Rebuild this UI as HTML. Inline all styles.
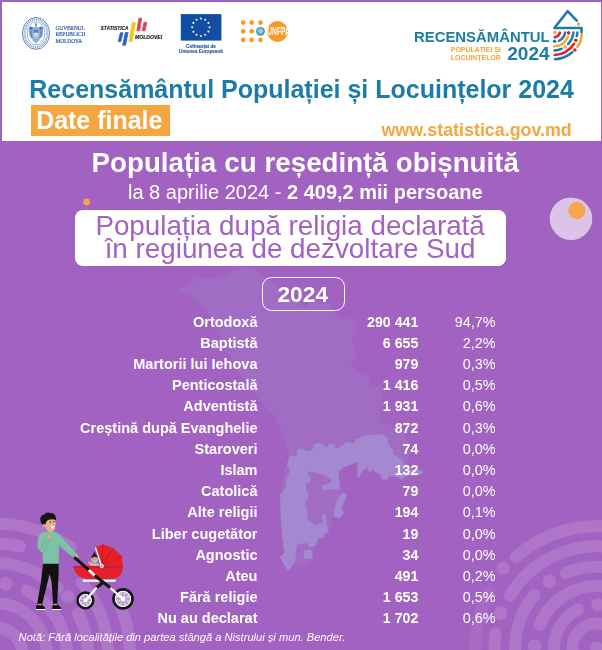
<!DOCTYPE html>
<html lang="ro">
<head>
<meta charset="utf-8">
<title>Recensământul Populației și Locuințelor 2024</title>
<style>
html,body{margin:0;padding:0;}
body{width:602px;height:650px;overflow:hidden;background:#A262C1;position:relative;
  font-family:"Liberation Sans",sans-serif;color:#fff;}
#wrap{position:absolute;left:0;top:0;width:602px;height:650px;overflow:hidden;will-change:transform;}
.abs{position:absolute;white-space:nowrap;}
#hdr{position:absolute;left:1.5px;top:1.6px;width:599.3px;height:139.8px;background:#fff;}
#title{left:29.3px;top:74.5px;font-size:25px;line-height:28px;font-weight:bold;color:#1B7DA7;}
#tag{left:31px;top:105px;width:139px;height:30.5px;background:#F4A640;}
#tagt{left:36.2px;top:106px;font-size:24.95px;line-height:28px;font-weight:bold;color:#fff;}
#www{left:381.4px;top:119.7px;font-size:17.85px;line-height:20px;font-weight:bold;color:#F4A640;}
#h1{left:91.6px;top:147.3px;font-size:27.7px;line-height:31px;font-weight:bold;word-spacing:0.35px;}
#h2{left:128px;top:181px;font-size:20px;line-height:23px;}
#box{left:75px;top:209.5px;width:431px;height:56.4px;background:#fff;border-radius:8px;}
.bl{font-size:27.8px;line-height:30px;color:#A262C1;left:74.6px;width:431px;text-align:center;}
#yr{left:262.4px;top:277.4px;width:80.2px;height:31.4px;border:1.2px solid rgba(255,255,255,0.95);border-radius:9.5px;}
#yrt{left:261.8px;width:82px;top:280.6px;text-align:center;font-size:22.8px;line-height:26px;font-weight:bold;}
.row{position:absolute;left:0;width:602px;height:21.15px;font-size:14.4px;line-height:21.15px;}
.row span{position:absolute;top:0;white-space:nowrap;text-align:right;}
.row .a{right:344.5px;font-weight:bold;font-size:14.52px;}
.row .b{right:183.7px;font-weight:bold;font-size:14.2px;}
.row .c{right:106.5px;}
#note{left:18.6px;top:629.9px;font-size:11.13px;line-height:14px;font-style:italic;}
</style>
</head>
<body>
<div id="wrap">
<!-- decorative background -->
<svg class="abs" style="left:0;top:0" width="602" height="650" viewBox="0 0 602 650">
  <g id="deco">
  <!-- Moldova map silhouette -->
  <path d="M179.0 290.0 L185.9 286.0 L191.4 283.0 L195.6 275.9 L205.2 279.0 L219.0 278.0 L231.4 271.9 L241.1 268.9 L246.6 266.9 L257.0 270.9 L264.6 275.9 L274.2 284.0 L280.4 292.0 L292.2 300.0 L299.1 302.0 L305.3 308.1 L310.1 300.0 L320.5 304.1 L329.4 304.1 L339.8 320.1 L351.5 318.1 L357.0 328.2 L352.2 338.2 L357.0 356.3 L351.5 362.3 L356.3 372.3 L368.1 376.3 L371.5 387.4 L382.5 383.4 L381.9 404.5 L379.1 421.5 L392.9 426.5 L403.9 430.6 L408.1 442.6 L409.5 454.7 L405.3 463.7 L412.2 469.7 L423.5 470.9 L421.2 474.4 L404.9 476.2 L402.6 479.7 L397.9 477.3 L388.6 476.2 L388 479.7 L382.8 479.7 L380.5 475 L374.7 471.5 L372.4 469.2 L369.7 473 L367 467.9 L363 470.5 L359 477.2 L357.2 477 L357.7 462.5 L352.4 462 L347 465.2 L341.8 469 L338.6 471.9 L340.4 486.5 L340 493.5 L346 495.8 L341.4 507.4 L343.7 513 L340 518 L334 516.7 L328.6 531.9 L324 534 L324 537.7 L318 538.8 L315.8 545.8 L313 558.6 L308.8 565.6 L295 564.4 L288 571.4 L279.8 557.4 L284.4 552.8 L282 536.5 L280.5 513 L281 492 L283 480 L285 470 L287.3 463.9 L289.4 454.7 L282.5 434.6 L274.2 416.5 L260.4 401.4 L246.6 383.4 L236.3 368.3 L225.9 350.2 L219.0 331.2 L210.7 318.1 L203.1 306.1 L192.8 298.0Z" fill="#A06CC4"/>
  <path d="M290.0 455.2 L296.6 455.9 L297.3 449.9 L301.3 447.9 L306.6 451.3 L312.6 449.9 L313.2 444.6 L318.5 442.6 L325.2 446.0 L327.8 447.3 L328.5 443.3 L334.5 444.0 L335.2 447.9 L338.5 447.9 L346.4 442.0 L354.4 443.3 L355.7 439.3 L360.0 437.3 L363.0 435.4 L381.6 434.3 L387.4 437.8 L388.6 444.8 L393.3 450 L393.3 454.1 L400.2 458.7 L403.7 463.4 L404.9 469.2 L415 469.5 L423.5 470.9 L421.2 474.4 L404.9 476.2 L402.6 479.7 L397.9 477.3 L388.6 476.2 L388 479.7 L382.8 479.7 L380.5 475 L374.7 471.5 L372.4 469.2 L369.7 473.0 L367.0 467.9 L363.0 470.5 L359.0 477.2 L357.2 477.0 L357.7 462.5 L360.0 461.2 L354.4 463.2 L342.5 467.9 L338.5 472.5 L339.8 489.8 L330.5 489.1 L322.5 489.8 L321.2 485.8 L331.2 482.5 L331.2 479.8 L323.9 475.2 L314.6 472.5 L308.6 471.2 L307.9 473.9 L311.2 479.2 L309.9 482.5 L306.6 483.8 L305.9 488.5 L308.6 493.8 L307.9 499.1 L305.2 501.8 L306.6 510.0 L307.7 512.0 L307.7 520.0 L314.6 524.9 L322.8 522.6 L321.6 514.4 L325.0 514.4 L328.6 531.9 L324.0 534.0 L324.0 537.7 L318.0 538.8 L315.8 545.8 L308.8 547.0 L307.7 543.0 L297.0 544.7 L295.0 562.0 L288.0 571.4 L279.8 557.4 L284.4 552.8 L282.0 536.5 L280.5 513.0 L280.0 493.8 L282.7 492.5 L285.3 487.1 L286.0 480.5 L288.0 475.8 L290.0 469.9 L286.6 465.2Z" fill="#A488D0"/>
  <path d="M342.5 492.5 L347.1 495.1 L341.8 507.8 L343.7 513 L340 518 L334 516.7 L334 511 L336.5 500.4Z" fill="#A488D0"/>
  <path d="M304 550.5 L311 549 L313 558.6 L304 559Z" fill="#A488D0"/>
  <!-- fingerprint bottom-right -->
  <g fill="none" stroke="#fff" stroke-opacity="0.13" stroke-width="12" stroke-linecap="round" id="fpR">
<path d="M515.7 557.3 A121.8 121.8 0 0 1 618.2 528.1 M510.0 595.5 A101.6 101.6 0 0 1 614.6 547.9 M495.5 633.7 A102.5 102.5 0 0 0 496.1 665.8 M565.8 573.0 A81.2 81.2 0 0 1 611.1 568.0 M534.5 595.0 A82 82 0 0 0 516.2 662.2 M539.6 625.1 A61.8 61.8 0 0 1 607.7 587.1 M577.9 609.5 A43 43 0 0 0 554.7 655.5 M605.4 625.0 A24.5 24.5 0 0 0 572.9 652.3"/>
<path stroke-opacity="0.06" d="M489.7 591.0 A121.5 121.5 0 0 0 477.3 669.1"/>
<circle cx="503.3" cy="568.3" r="6.8" fill="#fff" fill-opacity="0.13" stroke="none"/>
<circle cx="500.6" cy="613.1" r="6.8" fill="#fff" fill-opacity="0.13" stroke="none"/>
<circle cx="549.5" cy="581.2" r="6.8" fill="#fff" fill-opacity="0.13" stroke="none"/>
<circle cx="534.5" cy="646.4" r="6.8" fill="#fff" fill-opacity="0.13" stroke="none"/>
<circle cx="597.8" cy="605.0" r="6.8" fill="#fff" fill-opacity="0.13" stroke="none"/>
<circle cx="597.0" cy="648.4" r="6.8" fill="#fff" fill-opacity="0.13" stroke="none"/>
</g>
  <!-- fingerprint bottom-left -->
  <g fill="none" stroke="#fff" stroke-opacity="0.13" stroke-width="12" stroke-linecap="round" id="fpL">
<path d="M-27.9 525.5 A132 132 0 0 1 70.7 547.4 M118.3 600.1 A135 135 0 0 1 129.5 666.8 M-24.4 545.2 A111.5 111.5 0 0 1 20.1 546.4 M81.6 582.4 A113 113 0 0 1 107.6 664.8 M-21.0 564.4 A92 92 0 0 1 57.7 587.7 M78.1 613.2 A93 93 0 0 1 87.6 663.1 M27.0 590.5 A72 72 0 0 1 66.7 661.3 M-14.0 603.8 A52 52 0 0 1 46.8 659.5 M-9.8 627.9 A27.5 27.5 0 0 1 22.4 657.4"/>
<circle cx="5.8" cy="583.8" r="6.8" fill="#fff" fill-opacity="0.13" stroke="none"/>
<circle cx="67.8" cy="596.7" r="6.8" fill="#fff" fill-opacity="0.13" stroke="none"/>
<circle cx="-5.0" cy="655.0" r="6.8" fill="#fff" fill-opacity="0.13" stroke="none"/>
</g>
  <!-- circles -->
  <circle cx="571" cy="218.7" r="21.3" fill="#DBC4E8"/>
  <circle cx="576.8" cy="210.5" r="8.6" fill="#F6A548"/>
  <circle cx="86.6" cy="202" r="3.4" fill="#F6A548"/>

  <!-- man with pram -->
  <g id="man">
    <!-- pants -->
    <path d="M43.2 562.5 L58.6 562.5 L58.6 574 L57.2 605 L53.2 605 L51.6 582 L49.6 574 L42 605 L37 605 L41 582Z" fill="#111"/>
    <!-- shoes -->
    <path d="M36.4 605 L41.8 604.6 L45 607.6 L45 609.6 L36 609.6Z" fill="#111"/>
    <path d="M52.6 605 L57.6 604.6 L61 607.6 L61 609.6 L52.2 609.6Z" fill="#111"/>
    <rect x="36" y="609" width="9.2" height="1" fill="#fff"/>
    <rect x="52.2" y="609" width="9" height="1" fill="#fff"/>
    <rect x="37.6" y="603.8" width="4" height="1.4" fill="#E2A580"/>
    <rect x="53.4" y="603.8" width="3.6" height="1.4" fill="#E2A580"/>
    <!-- neck -->
    <rect x="48" y="528" width="4.8" height="6" fill="#E2A580"/>
    <!-- right arm -->
    <path d="M53.5 533.2 L58.2 533.6 L77.2 554.2 L75.4 557.6 L70.6 555.4 L55.6 541.5Z" fill="#7CC3A6"/>
    <!-- torso -->
    <path d="M39.6 534 C42 532.5 46 531.8 48 531.8 L53 531.8 C55.5 532 57.6 533 58.2 536 L59 548 L58.7 563.8 L43 563.8 L42.6 553 C39.5 551 37.4 548.5 37.4 545 C37.4 541 38.4 537 39.6 534Z" fill="#7CC3A6"/>
    <!-- left forearm line -->
    <path d="M40.5 547.5 L47.2 538.2" stroke="#5FA98B" stroke-width="0.8" fill="none"/>
    <path d="M43.2 552.6 L49.6 539.4" stroke="#5FA98B" stroke-width="0.6" fill="none"/>
    <!-- hands -->
    <circle cx="49" cy="537" r="2" fill="#E2A580"/>
    <circle cx="76.6" cy="556.4" r="1.9" fill="#E2A580"/>
    <g transform="translate(-0.9 0.2)">
    <!-- head -->
    <path d="M45.6 519.5 L55.4 518 C56.6 521 56.9 525 55.8 528.6 C54.8 531 52.6 532 50.6 531.4 C48 530.6 46.2 528 45.8 525Z" fill="#E8B08C"/>
    <circle cx="44.9" cy="525" r="1.5" fill="#E8B08C"/>
    <path d="M51.6 526.4 L55.4 525.6 C55.2 527.4 53.6 528.6 52.2 527.8Z" fill="#fff"/>
    <rect x="50.4" y="521.4" width="1.6" height="0.8" fill="#222"/>
    <rect x="54" y="521" width="1.4" height="0.8" fill="#222"/>
    <!-- hair -->
    <path d="M41.4 520.8 C40.6 517.5 42.6 514.6 45.2 514.4 C46.2 512.4 49.4 511.8 51.2 513 C53.6 512.4 56.4 514.2 56.6 517 C57.4 518 57 519.8 56 520 C54.6 518.6 52 519 49.6 519.6 C47.4 520.2 46.8 522.4 46.4 524.4 C45.4 523.6 44.6 523.6 44 524.6 C42.6 524 41.6 522.4 41.4 520.8Z" fill="#151515"/>
    </g>
  </g>
  <g id="pram">
    <!-- wheels -->
    <circle cx="85.4" cy="600.4" r="6.6" fill="#D2BDE2"/>
    <circle cx="123" cy="598.9" r="8.2" fill="#D2BDE2"/>
    <path d="M85.4 594.4 V606.4 M79.4 600.4 H91.4 M81.2 596.2 L89.6 604.6 M89.6 596.2 L81.2 604.6" stroke="#6F5C88" stroke-width="0.55"/>
    <path d="M123 591.4 V606.4 M115.5 598.9 H130.5 M117.7 593.6 L128.3 604.2 M128.3 593.6 L117.7 604.2" stroke="#6F5C88" stroke-width="0.55"/>
    <circle cx="85.4" cy="600.4" r="7.8" fill="none" stroke="#161616" stroke-width="2.6"/>
    <circle cx="85.4" cy="600.4" r="6" fill="none" stroke="#fff" stroke-width="0.9"/>
    <circle cx="123" cy="598.9" r="9.5" fill="none" stroke="#161616" stroke-width="2.7"/>
    <circle cx="123" cy="598.9" r="7.6" fill="none" stroke="#fff" stroke-width="1"/>
    <!-- legs -->
    <path d="M102.5 583 L96.8 587.5" stroke="#161616" stroke-width="3.2" stroke-linecap="round"/>
    <path d="M96.8 587.5 L85.4 600.4" stroke="#fff" stroke-width="2.2"/>
    <path d="M109.3 587 L123 598.9" stroke="#fff" stroke-width="2.2"/>
    <circle cx="85.4" cy="600.4" r="2" fill="#fff"/>
    <circle cx="123" cy="598.9" r="2.3" fill="#fff"/>
    <!-- hood -->
    <path d="M101.9 566 L95.1 547.1 L103 544.3 L113.3 548.3 L121.8 556.2 L123 566Z" fill="#E8202A"/>
    <path d="M101.9 566 L103 544.3 M101.9 566 L113.3 548.3 M101.9 566 L121.8 556.2" stroke="#B8141D" stroke-width="0.7" fill="none"/>
    <path d="M95.5 547.4 L101.2 565" stroke="#fff" stroke-width="1.3"/>
    <!-- baby -->
    <path d="M88 561.4 C89.4 561.2 91 562.4 92.4 563 L98.6 563.4 L99.6 566 L91 566 C89.6 564.6 88.4 563.2 88 561.4Z" fill="#E8B08C"/>
    <circle cx="94.5" cy="559.3" r="3.3" fill="#E8B08C"/>
    <path d="M91.2 558.2 C91.4 555.6 93.4 554.6 94.2 551.2 C95.2 554 97.4 555 97.8 557.6 C96 556.6 93.4 556.8 91.2 558.2Z" fill="#1B1E3C"/>
    <circle cx="93.6" cy="559" r="0.45" fill="#222"/><circle cx="96" cy="558.8" r="0.45" fill="#222"/>
    <circle cx="95.3" cy="561.3" r="1.5" fill="#8FD0F0"/>
    <!-- basket -->
    <path d="M73.4 565.9 L123 565.9 C123 574 118.6 578.9 111 578.9 L88 578.9 C79.4 578.9 74.6 574 73.4 565.9Z" fill="#E8202A"/>
    <rect x="73.4" y="565.9" width="49.6" height="1.9" fill="#C21F3A"/>
    <rect x="82.8" y="579.6" width="32.8" height="2.2" fill="#fff"/>
    <!-- handle bar -->
    <path d="M75.3 558.1 L88.8 569.9" stroke="#161616" stroke-width="3.1" stroke-linecap="round"/>
    <path d="M88.8 569.9 L95.6 576.2" stroke="#fff" stroke-width="2.7"/>
    <path d="M95.6 576.2 L109.3 587" stroke="#161616" stroke-width="3.1" stroke-linecap="round"/>
    <circle cx="101.9" cy="565.9" r="2" fill="#fff"/>
    <circle cx="101.9" cy="565.9" r="1" fill="#999"/>
  </g>
</g>
</svg>

<div id="hdr"></div>

<svg class="abs" style="left:0;top:0;will-change:transform" width="602" height="72" viewBox="0 0 602 72">
  <!-- Government emblem -->
  <g fill="none" stroke="#3366B0">
    <ellipse cx="36" cy="33.4" rx="13.6" ry="15.9" stroke-width="0.8"/>
    <ellipse cx="36" cy="33.4" rx="11.3" ry="13.7" stroke-width="2.4" stroke-dasharray="1.2 0.75" stroke-opacity="0.55"/>
    <ellipse cx="36" cy="33.4" rx="9" ry="11.5" stroke-width="0.5" stroke-opacity="0.9"/>
  </g>
  <g fill="#2F62AE">
    <path d="M36 22.8 L37 23.8 L36.8 26.2 L38.6 27.6 C39.8 26.4 41.8 26.2 42.8 27.4 C43.8 30.4 43.2 34.8 41.4 37.8 L40 38.4 L39.4 40.4 L37.6 42 L36 43.6 L34.4 42 L32.6 40.4 L32 38.4 L30.6 37.8 C28.8 34.8 28.2 30.4 29.2 27.4 C30.2 26.2 32.2 26.4 33.4 27.6 L35.2 26.2 L35 23.8Z" fill-opacity="0.5"/>
    <ellipse cx="31" cy="28.2" rx="1.7" ry="1.5" fill-opacity="0.75"/>
    <ellipse cx="41" cy="28.2" rx="1.7" ry="1.5" fill-opacity="0.75"/>
    <path d="M29.6 31 L31 37.4 L32.4 38 L31.6 30.6Z M42.4 31 L41 37.4 L39.6 38 L40.4 30.6Z" fill-opacity="0.5"/>
    <rect x="33.6" y="29.8" width="4.8" height="3.2" fill-opacity="0.6"/>
    <rect x="33.6" y="33" width="4.8" height="3.4" fill="#fff" fill-opacity="0.45"/>
    <path d="M33.6 36.4 L36 38.8 L38.4 36.4Z" fill="#fff" fill-opacity="0.35"/>
    <rect x="35.2" y="32.6" width="1.6" height="1.4" fill="#fff" fill-opacity="0.8"/>
    <path d="M34.6 23.6 L36 24.8 L37.4 23.6" stroke="#2F62AE" stroke-width="0.5" fill="none"/>
  </g>
  <g font-family="Liberation Serif, serif" font-size="5.6" fill="#2F62AE" stroke="#2F62AE" stroke-width="0.2">
    <text x="55.4" y="30" textLength="29.6" lengthAdjust="spacingAndGlyphs">GUVERNUL</text>
    <text x="55.4" y="36.3" textLength="30" lengthAdjust="spacingAndGlyphs">REPUBLICII</text>
    <text x="55.4" y="42.5" textLength="26.8" lengthAdjust="spacingAndGlyphs">MOLDOVA</text>
  </g>
  <!-- Statistica Moldovei -->
  <g font-family="Liberation Sans, sans-serif" font-size="5.9" font-weight="bold" font-style="italic" fill="#1a1a1a" stroke="#1a1a1a" stroke-width="0.15">
    <text x="100.6" y="30.3" textLength="28" lengthAdjust="spacingAndGlyphs">STATISTICA</text>
    <text x="135.1" y="38.6" textLength="27" lengthAdjust="spacingAndGlyphs">MOLDOVEI</text>
  </g>
  <g stroke-linejoin="round" stroke-width="0.8">
    <path d="M120.4 32.7 L123 32.7 L120.8 41.5 L118.2 41.5Z" fill="#2B62C8" stroke="#2B62C8"/>
    <path d="M125.3 32.5 L128.1 32.5 L125.5 45.2 L122.7 45.2Z" fill="#2B62C8" stroke="#2B62C8"/>
    <path d="M132.3 22.6 L135.5 22.6 L132.1 41.5 L128.9 41.5Z" fill="#F7C51E" stroke="#F7C51E"/>
    <path d="M138.9 18.3 L141.7 18.3 L139.6 30.8 L136.8 30.8Z" fill="#D4475A" stroke="#D4475A"/>
    <path d="M143.9 22.3 L146.8 22.3 L145.1 30.8 L142.2 30.8Z" fill="#D4475A" stroke="#D4475A"/>
  </g>
  <!-- EU flag -->
  <rect x="180.8" y="14.1" width="40.6" height="26.5" fill="#114EA2"/>
  <circle cx="200.9" cy="18.6" r="1.05" fill="#F1EFD8"/><circle cx="205.2" cy="19.8" r="1.05" fill="#F1EFD8"/><circle cx="208.4" cy="22.9" r="1.05" fill="#F1EFD8"/><circle cx="209.6" cy="27.3" r="1.05" fill="#F1EFD8"/><circle cx="208.4" cy="31.6" r="1.05" fill="#F1EFD8"/><circle cx="205.2" cy="34.8" r="1.05" fill="#F1EFD8"/><circle cx="200.9" cy="36.0" r="1.05" fill="#F1EFD8"/><circle cx="196.6" cy="34.8" r="1.05" fill="#F1EFD8"/><circle cx="193.4" cy="31.7" r="1.05" fill="#F1EFD8"/><circle cx="192.2" cy="27.3" r="1.05" fill="#F1EFD8"/><circle cx="193.4" cy="22.9" r="1.05" fill="#F1EFD8"/><circle cx="196.6" cy="19.8" r="1.05" fill="#F1EFD8"/>
  <g font-family="Liberation Sans, sans-serif" font-size="4.9" font-weight="bold" fill="#2456A8" stroke="#2456A8" stroke-width="0.12" text-anchor="middle">
    <text x="201" y="48.3" textLength="29.8" lengthAdjust="spacingAndGlyphs">Cofinanțat de</text>
    <text x="201" y="53.3" textLength="43.8" lengthAdjust="spacingAndGlyphs">Uniunea Europeană</text>
  </g>
  <!-- UNFPA -->
  <g fill="#F59A24">
    <circle cx="243.2" cy="22.6" r="2.35"/><circle cx="251.7" cy="22.6" r="2.35"/><circle cx="260.5" cy="22.6" r="2.35"/>
    <circle cx="243.2" cy="31.3" r="2.35"/><circle cx="251.7" cy="31.3" r="2.35"/>
    <circle cx="243.2" cy="39.9" r="2.35"/><circle cx="251.7" cy="39.9" r="2.35"/><circle cx="260.5" cy="39.9" r="2.35"/>
    <circle cx="277.5" cy="31.5" r="10.4"/>
  </g>
  <circle cx="260.5" cy="31.3" r="4.4" fill="#2F8CB8"/>
  <circle cx="260.5" cy="31.1" r="2.1" fill="#BFDDEC" fill-opacity="0.5" stroke="#D8EBF4" stroke-width="0.7"/>
  <circle cx="260.5" cy="31.3" r="3.4" fill="none" stroke="#BFDDEC" stroke-width="0.5" stroke-dasharray="1 0.6"/>
  <path d="M258.4 31.1 H262.6 M260.5 29 V33.2" stroke="#CFE6F2" stroke-width="0.4"/>
  <text transform="translate(267.3 35.1) scale(0.655 1)" font-family="Liberation Sans, sans-serif" font-size="10.2" font-weight="bold" fill="#fff">UNFPA</text>
  <!-- Census logo -->
  <g font-family="Liberation Sans, sans-serif" font-weight="bold">
    <text x="414" y="42.1" font-size="14.4" fill="#1B7DA7" textLength="135.6" lengthAdjust="spacingAndGlyphs">RECENSĂMÂNTUL</text>
    <text x="507.2" y="59.8" font-size="18" fill="#1B7DA7" textLength="42.4" lengthAdjust="spacingAndGlyphs">2024</text>
    <text x="450.8" y="52" font-size="7" fill="#F5A338" textLength="50" lengthAdjust="spacingAndGlyphs">POPULAȚIEI ȘI</text>
    <text x="450.8" y="59.9" font-size="7" fill="#F5A338" textLength="50" lengthAdjust="spacingAndGlyphs">LOCUINȚELOR</text>
  </g>
  <g fill="none" stroke-width="2.5" stroke-linecap="round" stroke-linejoin="round">
    <path d="M576.8 20.6 L567.6 11.2 L554.4 28 L581.5 28 L581.5 32.6" stroke="#1B7DA7" stroke-width="2.6"/>
    <path d="M581.5 34.2 C581.6 39.4 580.2 43.6 577.3 46.8" stroke="#F4A640" stroke-width="2.6"/>
    <path d="M554.7 37.2 A6.8 6.8 0 0 0 560.0 32.6" stroke="#E4202C"/>
    <path d="M558.9 41.0 A11.8 11.8 0 0 0 565.1 32.5" stroke="#1B7DA7"/>
    <path d="M554.3 46.3 A15.8 15.8 0 0 0 567.9 36.9" stroke="#F4A640"/>
    <path d="M554.5 50.5 A20 20 0 0 0 561.6 48.8" stroke="#1B7DA7"/>
    <path d="M568.1 44.1 A20 20 0 0 0 573.4 32.6" stroke="#1B7DA7"/>
    <path d="M554.8 55.0 A24.5 24.5 0 0 0 574.0 43.8" stroke="#E4202C"/>
    <path d="M576.8 36.3 A24 24 0 0 0 577.4 32.6" stroke="#1B7DA7"/>
    <path d="M555.0 59.2 A28.7 28.7 0 0 0 572.3 52.2" stroke="#1B7DA7"/>
  </g>
  <circle cx="578.5" cy="24" r="1.8" fill="#F4A640"/>
  <circle cx="554.8" cy="32.2" r="1.7" fill="#F4A640"/>
  <circle cx="554.6" cy="41.3" r="1.75" fill="#1B7DA7"/>
  <circle cx="568.6" cy="32.9" r="1.8" fill="#E4202C"/>
  <circle cx="575.8" cy="40.2" r="1.8" fill="#E4202C"/>
  <circle cx="565.1" cy="46.9" r="1.8" fill="#F4A640"/>
  <circle cx="574.9" cy="50" r="1.8" fill="#E4202C"/>
</svg>
<div class="abs" id="title">Recensământul Populației și Locuințelor 2024</div>
<div class="abs" id="tag"></div>
<div class="abs" id="tagt">Date finale</div>
<div class="abs" id="www">www.statistica.gov.md</div>

<div class="abs" id="h1">Populația cu reședință obișnuită</div>
<div class="abs" id="h2">la 8 aprilie 2024 - <b>2 409,2 mii persoane</b></div>

<div class="abs" id="box"></div>
<div class="abs bl" style="top:210.7px">Populația după religia declarată</div>
<div class="abs bl" style="top:233.5px">în regiunea de dezvoltare Sud</div>

<div class="abs" id="yr"></div>
<div class="abs" id="yrt">2024</div>

<div id="rows">
<div class="row" style="top:311.65px"><span class="a">Ortodoxă</span><span class="b">290 441</span><span class="c">94,7%</span></div>
<div class="row" style="top:332.84px"><span class="a">Baptistă</span><span class="b">6 655</span><span class="c">2,2%</span></div>
<div class="row" style="top:354.03px"><span class="a">Martorii lui Iehova</span><span class="b">979</span><span class="c">0,3%</span></div>
<div class="row" style="top:375.22px"><span class="a">Penticostală</span><span class="b">1 416</span><span class="c">0,5%</span></div>
<div class="row" style="top:396.41px"><span class="a">Adventistă</span><span class="b">1 931</span><span class="c">0,6%</span></div>
<div class="row" style="top:417.60px"><span class="a">Creștină după Evanghelie</span><span class="b">872</span><span class="c">0,3%</span></div>
<div class="row" style="top:438.79px"><span class="a">Staroveri</span><span class="b">74</span><span class="c">0,0%</span></div>
<div class="row" style="top:459.98px"><span class="a">Islam</span><span class="b">132</span><span class="c">0,0%</span></div>
<div class="row" style="top:481.17px"><span class="a">Catolică</span><span class="b">79</span><span class="c">0,0%</span></div>
<div class="row" style="top:502.36px"><span class="a">Alte religii</span><span class="b">194</span><span class="c">0,1%</span></div>
<div class="row" style="top:523.55px"><span class="a">Liber cugetător</span><span class="b">19</span><span class="c">0,0%</span></div>
<div class="row" style="top:544.74px"><span class="a">Agnostic</span><span class="b">34</span><span class="c">0,0%</span></div>
<div class="row" style="top:565.93px"><span class="a">Ateu</span><span class="b">491</span><span class="c">0,2%</span></div>
<div class="row" style="top:587.12px"><span class="a">Fără religie</span><span class="b">1 653</span><span class="c">0,5%</span></div>
<div class="row" style="top:608.31px"><span class="a">Nu au declarat</span><span class="b">1 702</span><span class="c">0,6%</span></div>
</div>

<div class="abs" id="note">Notă: Fără localitățile din partea stângă a Nistrului și mun. Bender.</div>
</div>
</body>
</html>
